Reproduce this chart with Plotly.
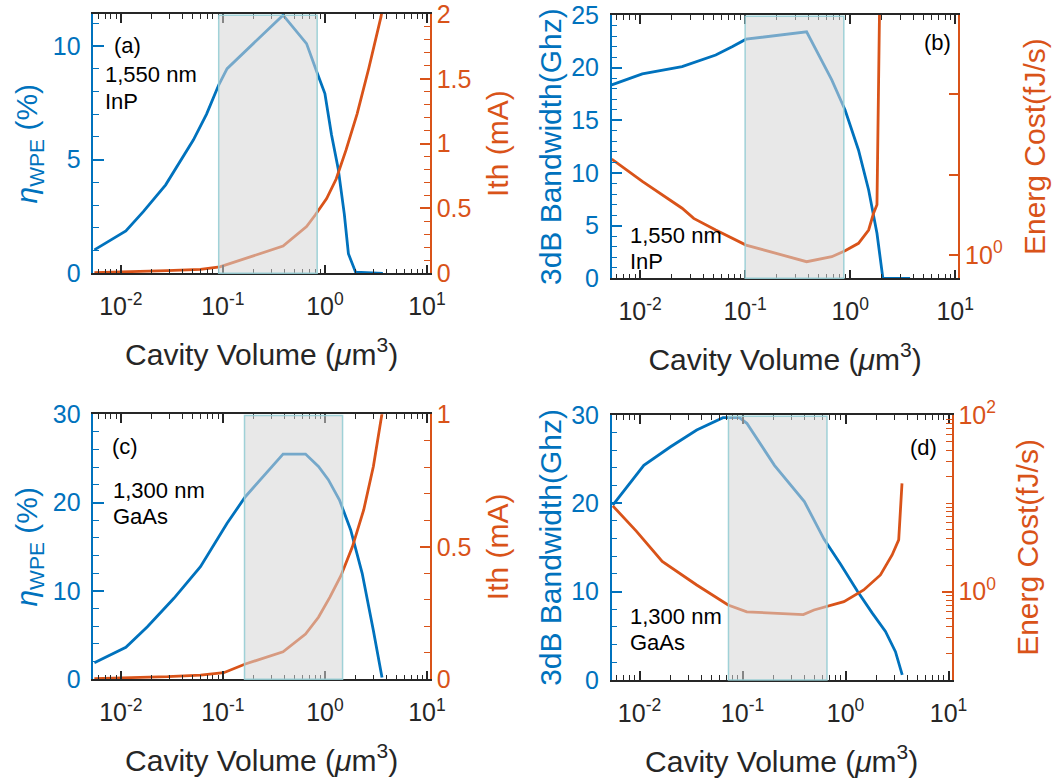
import plotly.graph_objects as go

BLUE = "#0072BD"
ORANGE = "#D95319"
DARK = "#262626"
FONT = "Liberation Sans, Arial, Helvetica, sans-serif"

# ---------------- data ----------------
# (a) 1,550 nm InP
a_vol_wpe = [0.0055, 0.0112, 0.0166, 0.0275, 0.0513, 0.0692, 0.0912, 0.110, 0.389,
             0.661, 0.832, 1.0, 1.16, 1.35, 1.55, 1.70, 2.0, 3.7]
a_wpe = [1.03, 1.86, 2.71, 3.89, 5.86, 7.0, 8.29, 9.0, 11.35,
         10.1, 8.86, 7.9, 6.1, 4.6, 2.6, 0.86, 0.05, 0.0]
a_vol_ith = [0.0055, 0.0112, 0.0282, 0.0603, 0.0933, 0.389, 0.661, 0.804, 1.04,
             1.29, 1.61, 2.07, 2.69, 3.55, 3.8]
a_ith = [0.005, 0.01, 0.02, 0.03, 0.05, 0.21, 0.36, 0.45, 0.576,
         0.727, 0.95, 1.23, 1.58, 1.98, 2.12]

# (b) 1,550 nm InP
b_vol_bw = [0.00537, 0.0105, 0.0251, 0.0525, 0.0759, 0.102, 0.385, 0.668, 0.895,
            1.20, 1.50, 1.80, 2.05, 3.72]
b_bw = [18.36, 19.4, 20.1, 21.2, 22.0, 22.7, 23.4, 18.83, 15.98,
        12.18, 8.39, 4.27, 0.0, 0.0]
b_vol_ec = [0.00537, 0.0105, 0.0251, 0.0324, 0.0525, 0.102, 0.385, 0.668, 0.895,
            1.20, 1.50, 1.67, 1.80, 1.905, 1.92]
b_ec = [15.7, 8.26, 3.83, 2.86, 2.05, 1.33, 0.826, 0.953, 1.13,
        1.40, 2.05, 3.31, 4.22, 1000.0, 2500.0]

# (c) 1,300 nm GaAs
c_vol_wpe = [0.0055, 0.0112, 0.0182, 0.0331, 0.0603, 0.110, 0.166, 0.389, 0.646,
             0.865, 1.08, 1.39, 1.79, 2.32, 2.99, 3.63]
c_wpe = [1.88, 3.62, 5.96, 9.17, 12.75, 17.66, 20.67, 25.5, 25.5,
         24.1, 22.6, 20.3, 16.9, 12.0, 5.5, 0.2]
c_vol_ith = [0.0055, 0.0112, 0.0288, 0.0603, 0.102, 0.166, 0.389, 0.646, 0.865,
             1.12, 1.44, 1.86, 2.40, 2.99, 3.60, 3.80]
c_ith = [0.003, 0.005, 0.01, 0.016, 0.025, 0.058, 0.104, 0.171, 0.234,
         0.31, 0.392, 0.5, 0.639, 0.804, 1.0, 1.05]

# (d) 1,300 nm GaAs
d_vol_bw = [0.0055, 0.011, 0.020, 0.0359, 0.0646, 0.0933, 0.110, 0.204, 0.398,
            0.617, 0.895, 1.30, 1.81, 2.44, 3.05, 3.55]
d_bw = [19.8, 24.3, 26.4, 28.3, 29.7, 29.7, 29.06, 24.3, 20.2,
        15.95, 13.1, 10.06, 7.6, 5.5, 3.2, 0.57]
d_vol_ec = [0.0055, 0.0093, 0.0166, 0.0359, 0.0724, 0.110, 0.389, 0.494, 0.964,
            1.50, 2.18, 2.83, 3.28, 3.53]
d_ec = [9.35, 4.85, 2.20, 1.19, 0.705, 0.59, 0.55, 0.62, 0.77,
        1.045, 1.545, 2.60, 3.85, 16.8]

# shaded optimum windows (cavity volume, um^3)
shade_a = [0.091, 0.84]
shade_b = [0.100, 0.87]
shade_c = [0.163, 1.49]
shade_d = [0.073, 0.66]

x_tickvals = [0.01, 0.1, 1, 10]
x_ticktext = ["10<sup>-2</sup>", "10<sup>-1</sup>", "10<sup>0</sup>", "10<sup>1</sup>"]
x_minor = [k * 10.0 ** n for n in range(-3, 1) for k in range(2, 10)]

# ---------------- figure ----------------
fig = go.Figure()

panels = [
    dict(i=1, xd=[0.0882, 0.4064], yd=[0.6514, 0.9821],
         blue=(a_vol_wpe, a_wpe), orange=(a_vol_ith, a_ith), shade=shade_a,
         ltitle="<i>η</i><sub>WPE</sub> (%)", lrange=[0, 11.4], ldtick=5, lminor=1, lstand=6,
         rtitle="Ith (mA)", rtype="linear", rrange=[0, 2], rdtick=0.5, rminor=0.1, rstand=17,
         label="(a)", lx=0.056, ly=0.88, t1="1,550 nm", t2="InP", tx=0.028, ty1=0.765, ty2=0.662),
    dict(i=2, xd=[0.5782, 0.9058], yd=[0.6450, 0.9809],
         blue=(b_vol_bw, b_bw), orange=(b_vol_ec, b_ec), shade=shade_b,
         ltitle="3dB Bandwidth(Ghz)", lrange=[0, 25], ldtick=5, lminor=1, lstand=1,
         rtitle="Energ Cost(fJ/s)", rtype="log", rrange=[-0.29, 2.99], rstand=22,
         rtickvals=[1, 10, 100, 1000], rticktext=["10<sup>0</sup>", "", "", ""], rminorvals=[],
         label="(b)", lx=0.894, ly=0.895, t1="1,550 nm", t2="InP", tx=0.048, ty1=0.161, ty2=0.062),
    dict(i=3, xd=[0.0882, 0.4064], yd=[0.1335, 0.4716],
         blue=(c_vol_wpe, c_wpe), orange=(c_vol_ith, c_ith), shade=shade_c,
         ltitle="<i>η</i><sub>WPE</sub> (%)", lrange=[0, 30], ldtick=10, lminor=2, lstand=6,
         rtitle="Ith (mA)", rtype="linear", rrange=[0, 1], rdtick=0.5, rminor=0.1, rstand=17,
         label="(c)", lx=0.05, ly=0.877, t1="1,300 nm", t2="GaAs", tx=0.053, ty1=0.714, ty2=0.616),
    dict(i=4, xd=[0.5782, 0.8995], yd=[0.1327, 0.4707],
         blue=(d_vol_bw, d_bw), orange=(d_vol_ec, d_ec), shade=shade_d,
         ltitle="3dB Bandwidth(Ghz)", lrange=[0, 30], ldtick=10, lminor=2, lstand=1,
         rtitle="Energ Cost(fJ/s)", rtype="log", rrange=[-1.0, 2.0], rstand=22,
         rtickvals=[1, 100], rticktext=["10<sup>0</sup>", "10<sup>2</sup>"],
         rminorvals=[k * 10.0 ** n for n in range(-1, 2) for k in range(1, 10)
                     if not (n == 0 and k == 1)],
         label="(d)", lx=0.871, ly=0.879, t1="1,300 nm", t2="GaAs", tx=0.048, ty1=0.238, ty2=0.14),
]

layout = {}
shapes = []
annotations = []

for p in panels:
    i = p["i"]
    xname = "xaxis" if i == 1 else f"xaxis{i}"
    xref = "x" if i == 1 else f"x{i}"
    li, ri = 2 * i - 1, 2 * i
    lname = "yaxis" if li == 1 else f"yaxis{li}"
    lref = "y" if li == 1 else f"y{li}"
    rname = f"yaxis{ri}"
    rref = f"y{ri}"

    fig.add_trace(go.Scatter(x=p["blue"][0], y=p["blue"][1], mode="lines",
                             line=dict(color=BLUE, width=2.8),
                             xaxis=xref, yaxis=lref, showlegend=False, hoverinfo="skip"))
    fig.add_trace(go.Scatter(x=p["orange"][0], y=p["orange"][1], mode="lines",
                             line=dict(color=ORANGE, width=2.8),
                             xaxis=xref, yaxis=rref, showlegend=False, hoverinfo="skip"))

    layout[xname] = dict(
        domain=p["xd"], anchor=lref, type="log", range=[-2.27, 1.03], automargin=False,
        showline=True, linecolor=DARK, linewidth=1.5, mirror="ticks",
        ticks="inside", ticklen=9, tickwidth=1.5, tickcolor=DARK,
        tickmode="array", tickvals=x_tickvals, ticktext=x_ticktext,
        tickfont=dict(size=25, color=DARK, family=FONT), ticklabelstandoff=10,
        ticklabeloverflow="allow",
        minor=dict(tickmode="array", tickvals=x_minor, ticks="inside", ticklen=5,
                   tickwidth=1.2, tickcolor=DARK, showgrid=False),
        showgrid=False, zeroline=False,
        title=dict(text="Cavity Volume (<i>μ</i>m<sup>3</sup>)",
                   font=dict(size=30, color=DARK, family=FONT), standoff=25),
    )
    layout[lname] = dict(
        domain=p["yd"], anchor=xref, range=p["lrange"], automargin=False,
        showline=True, linecolor=BLUE, linewidth=1.5,
        ticks="inside", ticklen=11, tickwidth=1.5, tickcolor=BLUE,
        tick0=0, dtick=p["ldtick"],
        tickfont=dict(size=25, color=BLUE, family=FONT), ticklabelstandoff=6,
        ticklabeloverflow="allow",
        minor=dict(dtick=p["lminor"], ticks="inside", ticklen=6, tickwidth=1.2,
                   tickcolor=BLUE, showgrid=False),
        showgrid=False, zeroline=False,
        title=dict(text=p["ltitle"], font=dict(size=30, color=BLUE, family=FONT),
                   standoff=p["lstand"]),
    )
    rdict = dict(
        domain=p["yd"], anchor=xref, overlaying=lref, side="right", automargin=False,
        showline=True, linecolor=ORANGE, linewidth=1.5,
        ticks="inside", ticklen=10, tickwidth=1.5, tickcolor=ORANGE,
        tickfont=dict(size=25, color=ORANGE, family=FONT), ticklabelstandoff=0,
        ticklabeloverflow="allow",
        showgrid=False, zeroline=False,
        title=dict(text=p["rtitle"], font=dict(size=30, color=ORANGE, family=FONT),
                   standoff=p["rstand"]),
    )
    if p["rtype"] == "linear":
        rdict.update(range=p["rrange"], tick0=0, dtick=p["rdtick"],
                     minor=dict(dtick=p["rminor"], ticks="inside", ticklen=6, tickwidth=1.2,
                                tickcolor=ORANGE, showgrid=False))
    else:
        rdict.update(type="log", range=p["rrange"], tickmode="array",
                     tickvals=p["rtickvals"], ticktext=p["rticktext"])
        if p["rminorvals"]:
            rdict["minor"] = dict(tickmode="array", tickvals=p["rminorvals"], ticks="inside",
                                  ticklen=6, tickwidth=1.2, tickcolor=ORANGE, showgrid=False)
    layout[rname] = rdict

    shapes.append(dict(type="rect", xref=xref, yref=f"{lref} domain",
                       x0=p["shade"][0], x1=p["shade"][1], y0=0, y1=0.995,
                       fillcolor="rgba(214,214,214,0.55)",
                       line=dict(color="rgba(150,205,212,0.9)", width=1.5), layer="above"))

    for txt, xx, yy in [(p["label"], p["lx"], p["ly"]),
                        (p["t1"], p["tx"], p["ty1"]),
                        (p["t2"], p["tx"], p["ty2"])]:
        annotations.append(dict(text=txt, xref=f"{xref} domain", yref=f"{lref} domain",
                                x=xx, y=yy, xanchor="left", yanchor="middle", showarrow=False,
                                font=dict(size=22, color="black", family=FONT)))

fig.update_layout(
    width=1058, height=784,
    margin=dict(l=0, r=0, t=0, b=0),
    paper_bgcolor="white", plot_bgcolor="white",
    font=dict(family=FONT),
    shapes=shapes, annotations=annotations,
    **layout,
)

fig.write_html("out.html", config={"displayModeBar": False},
               post_script="document.body.style.margin='0px';")
